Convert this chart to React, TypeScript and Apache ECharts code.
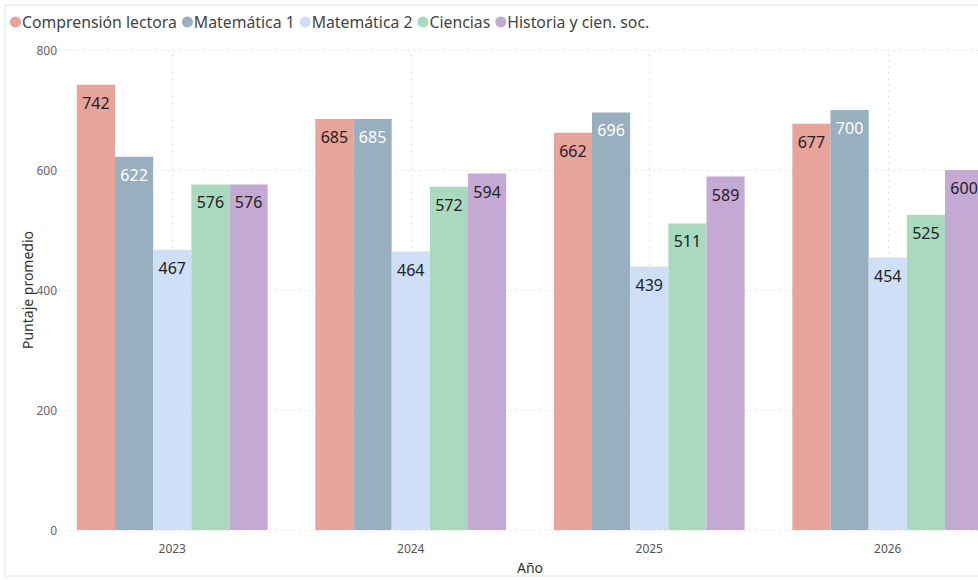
import React, { useEffect, useRef } from "react";
import * as echarts from "echarts";

const years = ["2023", "2024", "2025", "2026"];
const seriesNames = [
  "Comprensión lectora",
  "Matemática 1",
  "Matemática 2",
  "Ciencias",
  "Historia y cien. soc.",
];
const comprension = [742, 685, 662, 677];
const matematica1 = [622, 685, 696, 700];
const matematica2 = [467, 464, 439, 454];
const ciencias = [576, 572, 511, 525];
const historia = [576, 594, 589, 600];
const yTicks = { min: 0, max: 800, interval: 200 };

const colors = ["#E8A39B", "#98AFBF", "#CFDFF8", "#A9D9BE", "#C4A9D4"];
const labelColors = ["#222222", "#ffffff", "#222222", "#222222", "#222222"];
const FONT = "'Noto Sans', 'Open Sans', sans-serif";

export default function App() {
  const ref = useRef<HTMLDivElement>(null);
  useEffect(() => {
    if (!ref.current) return;
    const chart = echarts.init(ref.current, null, { renderer: "svg" });
    const values = [comprension, matematica1, matematica2, ciencias, historia];
    const series: any[] = values.map((v, i) => ({
      name: seriesNames[i],
      type: "bar",
      data: v,
      barGap: "0%",
      barCategoryGap: "20%",
      itemStyle: { color: colors[i] },
      z: 3,
      label: {
        show: true,
        position: "insideTop",
        distance: 10,
        color: labelColors[i],
        fontSize: 16,
        fontFamily: FONT,
      },
    }));
    series.push({
      name: "_grid",
      type: "line",
      data: [],
      z: 1,
      silent: true,
      markLine: {
        silent: true,
        symbol: ["none", "none"],
        z: 1,
        label: { show: false },
        lineStyle: { color: "#e3e3e3", type: [2, 4], width: 1 },
        data: years.map((y) => ({ xAxis: y })),
      },
    });
    chart.setOption({
      animation: false,
      textStyle: { fontFamily: FONT },
      color: colors,
      graphic: [
        {
          type: "rect",
          shape: { x: 5, y: 5, width: 1000, height: 571 },
          style: { fill: "none", stroke: "#e2e2e2", lineWidth: 1 },
          silent: true,
          z: -1,
        },
      ],
      legend: {
        data: seriesNames,
        left: 5,
        top: 9,
        icon: "circle",
        itemWidth: 11,
        itemHeight: 11,
        itemGap: 5,
        textStyle: { color: "#444", fontSize: 15.8, fontFamily: FONT, padding: [0, 0, 0, -4] },
      },
      grid: {
        left: 53,
        top: 50,
        width: 954,
        height: 480,
        containLabel: false,
        outerBoundsMode: "none",
      },
      xAxis: {
        type: "category",
        data: years,
        name: "Año",
        nameLocation: "middle",
        nameGap: 30,
        nameMoveOverlap: false,
        nameTextStyle: { color: "#333", fontSize: 14, fontFamily: FONT },
        axisLine: { show: false },
        axisTick: { show: false },
        axisLabel: { color: "#555", fontSize: 12, margin: 12, fontFamily: FONT },
        splitLine: { show: false },
      },
      yAxis: {
        type: "value",
        min: yTicks.min,
        max: yTicks.max,
        interval: yTicks.interval,
        name: "Puntaje promedio",
        nameLocation: "middle",
        nameGap: 19,
        nameMoveOverlap: false,
        nameTextStyle: { color: "#333", fontSize: 14, fontFamily: FONT },
        axisLine: { show: false },
        axisTick: { show: false },
        axisLabel: { color: "#666", fontSize: 12, margin: -4, fontFamily: FONT },
        splitLine: { show: true, lineStyle: { color: "#e3e3e3", type: [2, 4], width: 1 } },
      },
      series,
    });
    return () => chart.dispose();
  }, []);
  return (
    <div
      ref={ref}
      style={{ position: "absolute", left: 0, top: 0, width: 978, height: 580, background: "#fff" }}
    />
  );
}
